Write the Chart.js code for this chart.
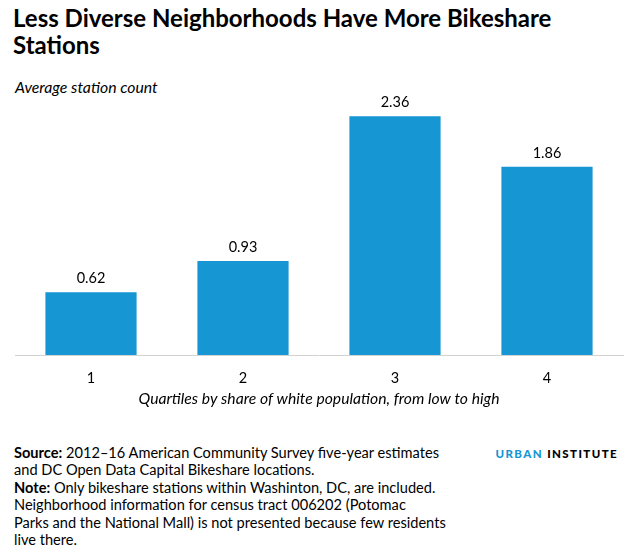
<!DOCTYPE html>
<html>
<head>
<meta charset="utf-8">
<script src="https://cdn.jsdelivr.net/npm/chart.js@4"></script>
<style>
  body { margin: 0; width: 633px; height: 553px; background: #fff; position: relative; overflow: hidden; font-family: Lato, "Open Sans", sans-serif; color: #000; }
  #title { position: absolute; left: 13px; top: 4px; width: 610px; font-size: 24px; font-weight: bold; line-height: 27px; }
  #ylabel { position: absolute; left: 15px; top: 77.5px; font-size: 15.8px; font-style: italic; line-height: 18px; }
  #wrap { position: absolute; left: 0; top: 92px; width: 633px; height: 316px; }
  #notes { position: absolute; left: 14px; top: 443.5px; font-size: 14.6px; line-height: 17.6px; }
  #logo { position: absolute; right: 15px; top: 447px; font-size: 11.5px; font-weight: 900; letter-spacing: 1.4px; line-height: 14px; }
  #logo span { color: #1696d2; }
</style>
</head>
<body>
<div id="title">Less Diverse Neighborhoods Have More Bikeshare Stations</div>
<div id="ylabel">Average station count</div>
<div id="wrap"><canvas id="barChart"></canvas></div>
<div id="notes">
  <b>Source:</b> 2012–16 American Community Survey five-year estimates<br>
  and DC Open Data Capital Bikeshare locations.<br>
  <b>Note:</b> Only bikeshare stations within Washinton, DC, are included.<br>
  Neighborhood information for census tract 006202 (Potomac<br>
  Parks and the National Mall) is not presented because few residents<br>
  live there.
</div>
<div id="logo"><span>URBAN</span> INSTITUTE</div>

<script>
// quartile categories and average station count per quartile
var quartiles = ['1', '2', '3', '4'];
var stationCounts = [0.62, 0.93, 2.36, 1.86];

// draw the value above each bar
var valueLabels = {
  id: 'valueLabels',
  afterDatasetsDraw: function (chart) {
    var ctx = chart.ctx;
    var meta = chart.getDatasetMeta(0);
    ctx.save();
    ctx.font = '14.5px Lato';
    ctx.fillStyle = '#000';
    ctx.textAlign = 'center';
    ctx.textBaseline = 'alphabetic';
    meta.data.forEach(function (bar, i) {
      ctx.fillText(stationCounts[i].toFixed(2), bar.x, bar.y - 9);
    });
    ctx.restore();
  }
};

var ctx = document.getElementById('barChart').getContext('2d');

var barChart = new Chart(ctx, {
  type: 'bar',
  data: {
    labels: quartiles,
    datasets: [{
      data: stationCounts,
      backgroundColor: '#1696d2',
      barPercentage: 0.6,
      categoryPercentage: 1
    }]
  },
  options: {
    responsive: true,
    maintainAspectRatio: false,
    animation: false,
    layout: { padding: { left: 15, right: 10, top: 0, bottom: 0 } },
    plugins: {
      legend: { display: false },
      tooltip: { enabled: false }
    },
    scales: {
      x: {
        grid: { display: false, drawTicks: false },
        border: { display: true, color: '#d2d2d2', width: 1 },
        ticks: { color: '#000', padding: 15, font: { family: 'Lato', size: 14.5 } },
        title: {
          display: true,
          text: 'Quartiles by share of white population, from low to high',
          color: '#000',
          font: { family: 'Lato', size: 15.7, style: 'italic' },
          padding: { top: 5, bottom: 0 }
        },
        // keep the axis band tight so the baseline sits where the original has it
        afterFit: function (scale) {
          scale.height = 53;
        }
      },
      y: {
        display: false,
        min: 0,
        max: 2.6
      }
    }
  },
  plugins: [valueLabels]
});
</script>
</body>
</html>
